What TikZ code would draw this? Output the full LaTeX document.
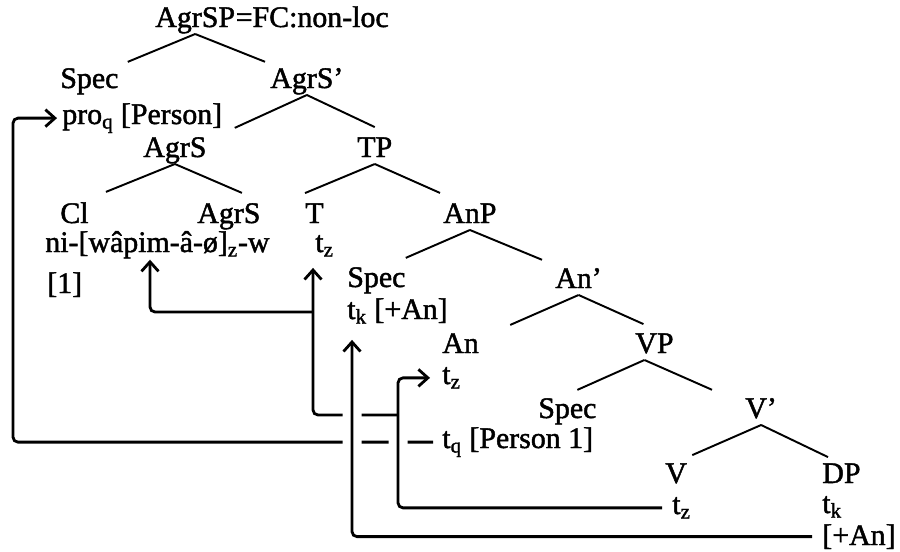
\documentclass[tikz,border=0pt]{standalone}
\usepackage{fontspec}
\setmainfont[FakeBold=1.5]{Liberation Serif}
\usetikzlibrary{arrows.meta,backgrounds}

\begin{document}
\begin{tikzpicture}[x=0.2cm,y=-0.2cm,
  every node/.style={font=\fontsize{17}{20}\selectfont},
  lbl/.style={anchor=base west,inner sep=0pt},
  br/.style={line width=1.1pt},
  mv/.style={line width=1.6pt,rounded corners=1mm},
  hd/.style={-{Straight Barb[length=1.9mm,width=3.4mm]}},
  halo/.style={preaction={draw=white,line width=3.8mm,arrows=-}}]
\useasboundingbox (0,0) rectangle (90,55.2);
% tree labels
\node[lbl] (agrsp) at (15.5,2.7) {AgrSP};
\node[lbl] (fc) at (agrsp.base east) {=FC:non-loc};
\node[lbl] (spec1) at (6.0,8.8) {Spec};
\node[lbl] (agrsbar) at (27.0,8.8) {AgrS’};
\node[lbl] (pro) at (6.2,12.4) {pro\textsubscript{q} [Person]};
\node[lbl] (agrs1) at (14.3,15.7) {AgrS};
\node[lbl] (tp) at (35.7,15.7) {TP};
\node[lbl] (cl) at (6.0,22.3) {Cl};
\node[lbl] (agrs2) at (19.7,22.3) {AgrS};
\node[lbl] (t) at (30.5,22.3) {T};
\node[lbl] (anp) at (44.3,22.3) {AnP};
\node[lbl] (ni) at (4.5,25.2) {ni-[wâpim-â-ø]\textsubscript{z}-w};
\node[lbl] (tz1) at (31.5,25.2) {t\textsubscript{z}};
\node[lbl] (one) at (4.7,29.3) {[1]};
\node[lbl] (spec2) at (34.7,28.7) {Spec};
\node[lbl] (anbar) at (55.5,28.8) {An’};
\node[lbl] (tk1) at (34.7,31.9) {t\textsubscript{k} [+An]};
\node[lbl] (an) at (44.2,35.3) {An};
\node[lbl] (vp) at (63.5,35.3) {VP};
\node[lbl] (tz2) at (44.2,38.4) {t\textsubscript{z}};
\node[lbl] (spec3) at (53.8,41.8) {Spec};
\node[lbl] (vbar) at (74.5,41.8) {V’};
\node[lbl] (tq) at (44.2,44.8) {t\textsubscript{q} [Person 1]};
\node[lbl] (v) at (66.5,48.3) {V};
\node[lbl] (dp) at (82.2,48.3) {DP};
\node[lbl] (tz3) at (67.2,51.4) {t\textsubscript{z}};
\node[lbl] (tk2) at (82.2,51.3) {t\textsubscript{k}};
\node[lbl] (plusan) at (82.2,54.5) {[+An]};
% branches
\draw[br] ([yshift=-1.4mm]agrsp.base) -- ([xshift=1.8mm,yshift=1.2mm]spec1.north east);
\draw[br] ([yshift=-1.4mm]agrsp.base) -- ([xshift=-1mm,yshift=1.2mm]agrsbar.north west);
\draw[br] ([yshift=-1.4mm]agrsbar.base) -- ([xshift=5.6mm,yshift=1.8mm]agrs1.north east);
\draw[br] ([yshift=-1.4mm]agrsbar.base) -- ([yshift=2mm]tp.north);
\draw[br] ([yshift=-1.4mm]agrs1.base) -- ([xshift=3.4mm,yshift=2mm]cl.north east);
\draw[br] ([yshift=-1.4mm]agrs1.base) -- ([xshift=2.6mm,yshift=2mm]agrs2.north);
\draw[br] ([yshift=-1.4mm]tp.base) -- ([yshift=2mm]t.north west);
\draw[br] ([yshift=-1.4mm]tp.base) -- ([xshift=-0.6mm,yshift=2mm]anp.north west);
\draw[br] ([yshift=-1.4mm]anp.base) -- ([yshift=1.8mm]spec2.north east);
\draw[br] ([yshift=-1.4mm]anp.base) -- ([xshift=-2.6mm,yshift=1.6mm]anbar.north west);
\draw[br] ([yshift=-1.4mm]anbar.base) -- ([xshift=6.2mm,yshift=1.6mm]an.north east);
\draw[br] ([yshift=-1.4mm]anbar.base) -- ([xshift=-2.2mm,yshift=1.8mm]vp.north);
\draw[br] ([xshift=-2mm,yshift=-1.4mm]vp.base) -- ([xshift=2mm,yshift=1.6mm]spec3.north);
\draw[br] ([xshift=-2mm,yshift=-1.4mm]vp.base) -- ([xshift=-6.6mm,yshift=1.6mm]vbar.north west);
\draw[br] ([yshift=-1.4mm]vbar.base) -- ([xshift=1mm,yshift=1.6mm]v.north east);
\draw[br] ([yshift=-1.4mm]vbar.base) -- ([xshift=1.2mm,yshift=1.2mm]dp.north west);
% movement paths
\coordinate (jz) at (39.8,41.5);
\coordinate (jn) at (31.3,31.2);
\begin{scope}[on background layer]
\draw[mv,hd,shorten <=1.8mm,shorten >=1mm] (tq.west) -- (1.3,0 |- tq.west) |- (pro.west);
\draw[mv,hd,halo,shorten <=2mm,shorten >=2.4mm] (tz3.west) -- (39.8,0 |- tz3.west) |- (tz2.west);
\draw[mv,hd] (jz) -| ([xshift=-0.4mm,yshift=-2.2mm]tz1.south west);
\draw[mv,hd] (jn) -| ([xshift=21mm,yshift=-0.2mm]ni.south west);
\draw[mv,hd,halo,shorten <=2mm,shorten >=3.2mm] (plusan.west) -| ([xshift=1mm]tk1.south west);
\end{scope}
\end{tikzpicture}
\end{document}
